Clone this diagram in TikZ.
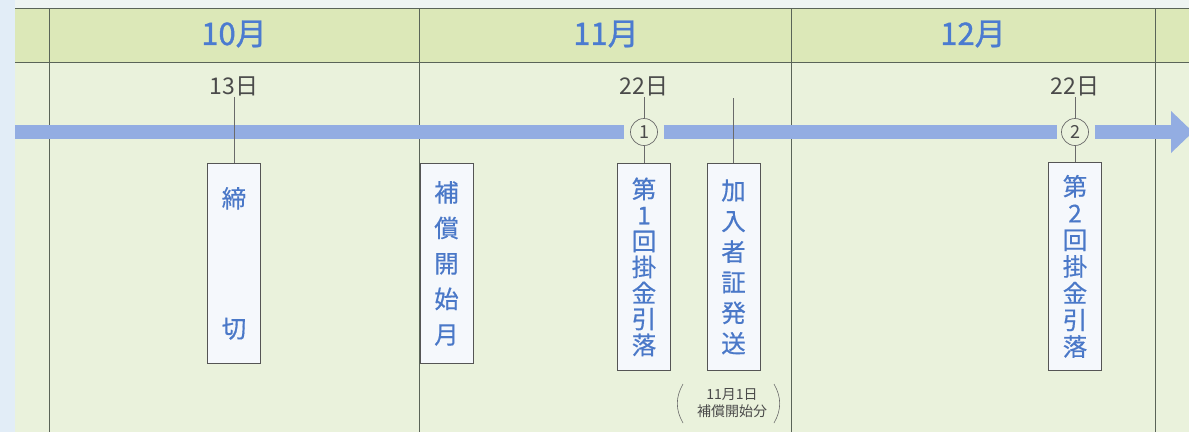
\documentclass[tikz,border=0pt]{standalone}
\usepackage{fontspec}
\setmainfont{Noto Sans CJK JP}
\newfontfamily\monthfont[FakeBold=1.2]{Noto Sans CJK JP}
\newfontfamily\tagfont[FakeBold=0.5]{Noto Sans CJK JP}
\definecolor{bgC}{HTML}{EAF2DC}
\definecolor{headC}{HTML}{DCE8B8}
\definecolor{sideC}{HTML}{E2EDF7}
\definecolor{topC}{HTML}{EEF4F2}
\definecolor{bandC}{HTML}{93ADE2}
\definecolor{lineC}{HTML}{5A6458}
\definecolor{tickC}{HTML}{6A6A6A}
\definecolor{dateC}{HTML}{4A4A4A}
\definecolor{monthC}{HTML}{4B7BD0}
\definecolor{boxText}{HTML}{4A78C8}
\definecolor{boxFill}{HTML}{F5F8FC}
\definecolor{boxLine}{HTML}{555555}
\tikzset{
  grid/.style={draw=lineC, line width=1pt},
  band/.style={draw=bandC, line width=14pt},
  datelbl/.style={text=dateC, font=\fontsize{23}{24}\selectfont, inner sep=0pt, outer sep=1.5pt},
  monthlbl/.style={text=monthC, font=\monthfont\fontsize{31}{32}\selectfont, inner sep=0pt},
  tag/.style={draw=boxLine, fill=boxFill, line width=0.8pt, minimum width=53pt, anchor=north, align=center, text=boxText, inner sep=0pt},
  tick/.style={draw=tickC, line width=0.7pt},
  num/.style={circle, draw=tickC, fill=bgC, line width=0.7pt, minimum size=27pt, inner sep=0pt, text=dateC, font=\fontsize{18}{18}\selectfont},
  note/.style={text=dateC, align=center, inner sep=0pt, font=\fontsize{14}{17}\selectfont},
  paren/.style={draw=tickC, line width=0.6pt},
}
\begin{document}
\begin{tikzpicture}[x=1pt, y=-1pt]
\useasboundingbox (0,0) rectangle (1189,432);
% backgrounds
\fill[topC] (0,0) rectangle (1189,8);
\fill[sideC] (0,0) rectangle (15,432);
\fill[headC] (15,8) rectangle (1189,62);
\fill[bgC] (15,62) rectangle (1189,432);
% grid
\draw[grid] (15,8) -- (1189,8);
\draw[grid] (15,62) -- (1189,62);
\foreach \gx in {49,419,791,1155} { \draw[grid] (\gx,8) -- (\gx,432); }
% months
\node[monthlbl] (m10) at (234,34) {10月};
\node[monthlbl] (m11) at (606,34) {11月};
\node[monthlbl] (m12) at (973,34) {12月};
% dates and circles
\node[datelbl] (d1) at (234,86) {13日};
\node[datelbl] (d2) at (644,86) {22日};
\node[datelbl] (d3) at (1075,86) {22日};
\node[num] (c1) at (644,132) {1};
\node[num] (c2) at (1075,132) {2};
% band
\coordinate (bandL) at (15,132);
\coordinate (bandR) at (1172,132);
\draw[band] (bandL) -- ([xshift=-6pt]c1.west);
\draw[band] ([xshift=6pt]c1.east) -- ([xshift=-4pt]c2.west);
\draw[band] ([xshift=6pt]c2.east) -- (bandR);
\fill[bandC] (1171,111) -- (1193,132) -- (1171,153) -- cycle;
% boxes
\node[tag, minimum height=200pt, font=\tagfont\fontsize{24.5}{130}\selectfont] (b1) at (234,163) {締\\切};
\node[tag, minimum height=200pt, font=\tagfont\fontsize{24.5}{35.5}\selectfont] (b2) at (446.5,163) {補\\償\\開\\始\\月};
\node[tag, minimum height=207pt, font=\tagfont\fontsize{24.5}{26}\selectfont] (b3) at (644,163) {第\\1\\回\\掛\\金\\引\\落};
\node[tag, minimum height=207pt, font=\tagfont\fontsize{24.5}{30.6}\selectfont] (b5) at (733.5,163) {加\\入\\者\\証\\発\\送};
\node[tag, minimum height=208pt, font=\tagfont\fontsize{24.5}{26.7}\selectfont] (b4) at (1075,162) {第\\2\\回\\掛\\金\\引\\落};
% ticks
\coordinate (t5) at (733.5,98);
\draw[tick] (d1) -- (b1.north);
\draw[tick] (d2) -- (c1);
\draw[tick] (c1) -- (b3.north);
\draw[tick] (d3) -- (c2);
\draw[tick] (c2) -- (b4.north);
\draw[tick] (t5) -- (b5.north);
% note
\node[note] (n1) at (732,403) {11月1日\\補償開始分};
\coordinate (pl1) at (683,384);
\coordinate (pl2) at (683,423);
\coordinate (pr1) at (774,384);
\coordinate (pr2) at (774,423);
\draw[paren] (pl1) to[bend right=30] (pl2);
\draw[paren] (pr1) to[bend left=30] (pr2);
\end{tikzpicture}
\end{document}
